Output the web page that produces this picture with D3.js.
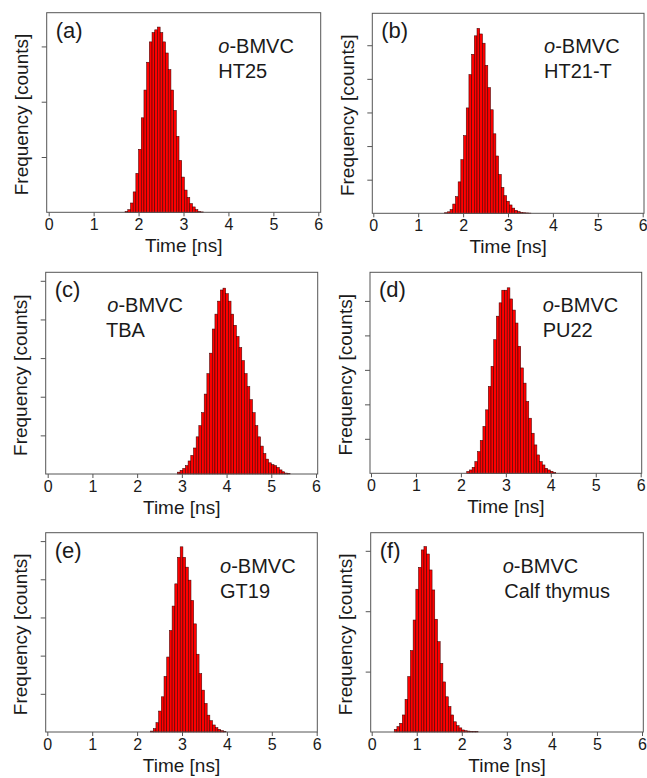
<!DOCTYPE html>
<html><head><meta charset="utf-8">
<script src="https://cdn.jsdelivr.net/npm/d3@7"></script>
<style>
html,body{margin:0;padding:0;background:#fff;}
svg{display:block;font-family:"Liberation Sans",Arial,sans-serif;}
</style></head>
<body>
<svg id="chart" width="647" height="778"></svg>
<script>
// ---- data ----
const panelLetters = ["(a)","(b)","(c)","(d)","(e)","(f)"];
const compoundLabel = "o-BMVC";
const sampleLabels = ["HT25","HT21-T","TBA","PU22","GT19","Calf thymus"];
const xTicks = [0,1,2,3,4,5,6];
const binWidth = 0.06; // ns
const binStart = [1.70, 1.59, 2.90, 2.13, 2.30, 0.50];
const yMax = [3610, 5950, 5220, 5830, 5220, 3300];
const yTickStep = 1000;

const countsA = [17,47,168,369,704,1139,1709,2211,2714,3082,3250,3300,3350,3250,3082,2881,2580,2211,1843,1374,938,637,402,268,157,97,47,17,7];
const countsB = [17,44,110,275,495,935,1595,2310,3135,4125,4730,5280,5500,5335,5060,4400,3740,3080,2365,1705,1155,770,523,358,248,154,88,50,28,17,11,6];
const countsC = [48,96,144,216,337,481,673,962,1251,1587,2068,2597,3127,3752,4137,4473,4762,4810,4666,4473,4137,3848,3559,3271,2934,2597,2261,1924,1587,1251,962,722,529,385,289,241,216,168,106,58,24,14];
const countsD = [54,97,172,339,629,952,1361,1840,2518,3104,3874,4557,4944,5310,5310,5380,5057,4734,4358,3685,3056,2615,2082,1598,1162,823,533,339,242,145,97,59,27];
const countsE = [24,87,243,548,922,1455,1964,2658,3298,3880,4574,4850,4574,4317,3977,3444,2832,2037,1528,1096,747,441,296,184,112,68,34,19];
const countsF = [43,89,144,282,540,918,1348,1854,2364,2726,3015,3070,2947,2683,2352,1867,1495,1136,829,583,421,282,169,104,68,34,21,15,12,9,6];
const allCounts = [countsA,countsB,countsC,countsD,countsE,countsF];

// ---- layout ----
const boxes = [
  {l:46.7, t:12.7, r:320.7, b:212.3, x0:48.7, x6:318.3, lab:171.6, lab2:171.6},
  {l:372.3,t:13.3, r:644.0, b:213.3, x0:373.3,x6:642.7, lab:171.7, lab2:171.7},
  {l:45.7, t:272.3,r:317.7, b:474.0, x0:47.7, x6:316.0, lab:61.6,  lab2:60.3},
  {l:370.0,t:272.3,r:641.7, b:473.3, x0:371.0,x6:640.7, lab:172.7, lab2:172.7},
  {l:45.7, t:532.7,r:317.3, b:732.0, x0:47.3, x6:316.7, lab:174.3, lab2:174.3},
  {l:370.7,t:532.7,r:643.3, b:732.0, x0:371.7,x6:642.0, lab:132.0, lab2:133.6}
];

const svg = d3.select("#chart");
const axisColor = "#555";

boxes.forEach((B, i) => {
  const g = svg.append("g");
  const x = d3.scaleLinear().domain([0,6]).range([B.x0, B.x6]);
  const y = d3.scaleLinear().domain([0, yMax[i]]).range([B.b, B.t]);
  const counts = allCounts[i];
  const bins = counts.map((c, k) => ({x0: binStart[i] + k*binWidth, x1: binStart[i] + (k+1)*binWidth, c}));

  // bars
  g.append("g").selectAll("rect").data(bins).join("rect")
    .attr("x", d => x(d.x0))
    .attr("y", d => y(d.c))
    .attr("width", d => x(d.x1) - x(d.x0))
    .attr("height", d => y(0) - y(d.c))
    .attr("fill", "#ff0000")
    .attr("stroke", "#400000")
    .attr("stroke-width", 0.55);

  // x axis
  const xa = g.append("g").attr("transform", `translate(0,${B.b})`)
    .call(d3.axisBottom(x).tickValues(xTicks).tickFormat(d3.format("d")).tickSize(4).tickPadding(2.5));
  xa.select(".domain").remove();
  xa.selectAll("line").attr("stroke", axisColor);
  xa.selectAll("text").attr("font-size", 16).attr("fill", "#1a1a1a").attr("font-family", "Liberation Sans, Arial, sans-serif");

  // y axis (no labels)
  const yTickVals = d3.range(yTickStep, yMax[i], yTickStep);
  const ya = g.append("g").attr("transform", `translate(${B.l},0)`)
    .call(d3.axisLeft(y).tickValues(yTickVals).tickFormat("").tickSize(5));
  ya.select(".domain").remove();
  ya.selectAll("line").attr("stroke", axisColor);

  // frame
  g.append("rect").attr("x", B.l).attr("y", B.t).attr("width", B.r - B.l).attr("height", B.b - B.t)
    .attr("fill", "none").attr("stroke", axisColor).attr("stroke-width", 1);

  // axis titles
  g.append("text").attr("x", (B.l + B.r)/2).attr("y", B.b + 40)
    .attr("text-anchor", "middle").attr("font-size", 19).attr("fill", "#1a1a1a").text("Time [ns]");
  g.append("text")
    .attr("transform", `translate(${B.l - 18.5},${(B.t + B.b)/2 + 2}) rotate(-90)`)
    .attr("text-anchor", "middle").attr("font-size", 19).attr("fill", "#1a1a1a").text("Frequency [counts]");

  // panel letter
  g.append("text").attr("x", B.l + 9).attr("y", B.t + 25)
    .attr("font-size", 22).attr("fill", "#1a1a1a").text(panelLetters[i]);

  // sample labels
  const t1 = g.append("text").attr("x", B.l + B.lab).attr("y", B.t + 40)
    .attr("font-size", 20).attr("fill", "#1a1a1a");
  t1.append("tspan").attr("font-style", "italic").text(compoundLabel.slice(0,1));
  t1.append("tspan").text(compoundLabel.slice(1));
  g.append("text").attr("x", B.l + B.lab2).attr("y", B.t + 65)
    .attr("font-size", 20).attr("fill", "#1a1a1a").text(sampleLabels[i]);
});
</script>
</body></html>
